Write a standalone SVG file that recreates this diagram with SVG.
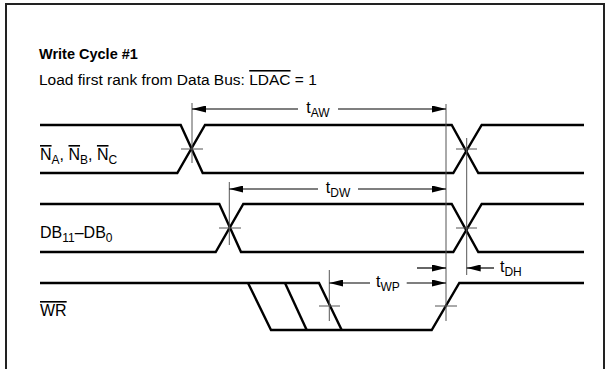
<svg xmlns="http://www.w3.org/2000/svg" width="608" height="369" viewBox="0 0 608 369">
<defs>
<marker id="ah" viewBox="0 0 14 7" refX="14" refY="3.5" markerWidth="14" markerHeight="7" markerUnits="userSpaceOnUse" orient="auto">
<path d="M0,0 L14,3.5 L0,7 z" fill="#000"/>
</marker>
<style>
text{font-family:"Liberation Sans",Arial,sans-serif;fill:#000}
.lbl{font-size:16px}
.sub{font-size:12px}
.sig{fill:none;stroke:#000;stroke-width:2.4;stroke-linejoin:miter}
.ref{fill:none;stroke:#555;stroke-width:1}
.dim{fill:none;stroke:#000;stroke-width:1.2;marker-end:url(#ah)}
.ol{text-decoration:overline}
</style>
</defs>
<rect width="608" height="369" fill="#fff"/>
<path d="M6,369 V4 H604 V369" fill="none" stroke="#222" stroke-width="2"/>
<g id="title">
<text x="39" y="59" font-size="14.5" font-weight="bold">Write Cycle #1</text>
<text x="39" y="85" font-size="15.5">Load first rank from Data Bus: <tspan class="ol">LDAC</tspan> = 1</text>
</g>
<g id="sig-N">
<text x="40" y="160" class="lbl"><tspan class="ol">N</tspan><tspan class="sub" dy="4">A</tspan><tspan dy="-4">, </tspan><tspan class="ol">N</tspan><tspan class="sub" dy="4">B</tspan><tspan dy="-4">, </tspan><tspan class="ol">N</tspan><tspan class="sub" dy="4">C</tspan></text>
<path class="sig" d="M40,125 H180.7 L202.7,173 H453.3 L481.7,125 H584"/>
<path class="sig" d="M40,173 H177.3 L205,125 H451.7 L478.3,173 H584"/>
</g>
<g id="sig-DB">
<text x="40" y="238" class="lbl">DB<tspan class="sub" dy="4">11</tspan><tspan dy="-4">–DB</tspan><tspan class="sub" dy="4">0</tspan></text>
<path class="sig" d="M40,204 H219.3 L241,252 H453.3 L481.7,204 H584"/>
<path class="sig" d="M40,252 H215.7 L243.3,204 H451.7 L478.3,252 H584"/>
</g>
<g id="sig-WR">
<text x="40" y="316" class="lbl"><tspan class="ol">WR</tspan></text>
<path class="sig" d="M40,283 H319 L341.7,330"/>
<path class="sig" d="M248,283 L271,330 H431.7 L459.3,283 H584"/>
<path class="sig" d="M285,283 L306.7,330"/>
</g>
<g id="connectors">
<path class="ref" d="M192,103 V163 M229.3,182 V245 M446,104 V321 M466.7,138 V275 M329.3,270 V321"/>
<path class="ref" d="M181,149 H203 M456,149 H477 M219,228 H241 M456,228 H477 M319,306 H340 M435,306 H457"/>
<line class="dim" x1="298" y1="109" x2="192" y2="109"/>
<line class="dim" x1="338" y1="109" x2="446" y2="109"/>
<line class="dim" x1="318" y1="189" x2="229.3" y2="189"/>
<line class="dim" x1="358" y1="189" x2="446" y2="189"/>
<line class="dim" x1="370" y1="283" x2="329.3" y2="283"/>
<line class="dim" x1="406.7" y1="283" x2="446" y2="283"/>
<line class="dim" x1="417" y1="268" x2="446" y2="268"/>
<line class="dim" x1="494" y1="268" x2="466.7" y2="268"/>
<text x="318" y="113" class="lbl" text-anchor="middle">t<tspan class="sub" dy="4">AW</tspan></text>
<text x="338" y="193" class="lbl" text-anchor="middle">t<tspan class="sub" dy="4">DW</tspan></text>
<text x="388" y="287" class="lbl" text-anchor="middle">t<tspan class="sub" dy="4">WP</tspan></text>
<text x="500" y="272" class="lbl">t<tspan class="sub" dy="4">DH</tspan></text>
</g>
</svg>
